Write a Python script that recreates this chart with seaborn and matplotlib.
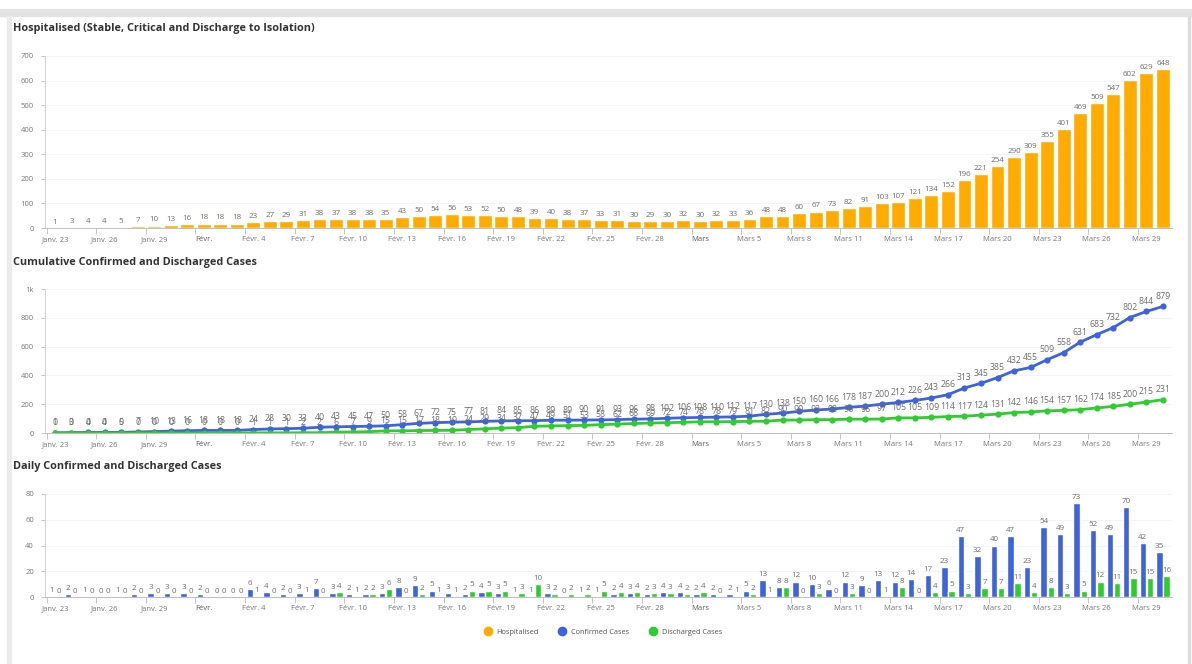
import matplotlib
matplotlib.use('Agg')
import pandas as pd
import matplotlib.pyplot as plt
import seaborn as sns
from matplotlib.lines import Line2D
from matplotlib.patches import Rectangle

# daily dates Jan 23 - Mar 30 2020
days = pd.date_range('2020-01-23', '2020-03-30', freq='D')

hospitalised = [1, 3, 4, 4, 5, 7, 10, 13, 16, 18, 18, 18, 23, 27, 29, 31, 38, 37, 38, 38,
                35, 43, 50, 54, 56, 53, 52, 50, 48, 39, 40, 38, 37, 33, 31, 30, 29, 30, 32, 30,
                32, 33, 36, 48, 48, 60, 67, 73, 82, 91, 103, 107, 121, 134, 152, 196, 221, 254,
                290, 309, 355, 401, 469, 509, 547, 602, 629, 648]

confirmed_cum = [1, 3, 4, 4, 5, 7, 10, 13, 16, 18, 18, 18, 24, 28, 30, 33, 40, 43, 45, 47,
                 50, 58, 67, 72, 75, 77, 81, 84, 85, 86, 89, 89, 90, 91, 93, 96, 98, 102, 106, 108,
                 110, 112, 117, 130, 138, 150, 160, 166, 178, 187, 200, 212, 226, 243, 266, 313,
                 345, 385, 432, 455, 509, 558, 631, 683, 732, 802, 844, 879]

discharged_cum = [0, 0, 0, 0, 0, 0, 0, 0, 0, 0, 0, 0, 1, 1, 1, 2, 2, 6, 7, 9,
                  15, 15, 17, 18, 19, 24, 29, 34, 37, 47, 49, 51, 53, 58, 62, 66, 69, 72, 74, 78,
                  78, 79, 81, 82, 90, 90, 93, 93, 96, 96, 97, 105, 105, 109, 114, 117, 124, 131,
                  142, 146, 154, 157, 162, 174, 185, 200, 215, 231]

confirmed_daily = [1, 2, 1, 0, 1, 2, 3, 3, 3, 2, 0, 0, 6, 4, 2, 3, 7, 3, 2, 2,
                   3, 8, 9, 5, 3, 2, 4, 3, 1, 1, 3, 0, 1, 1, 2, 3, 2, 4, 4, 2,
                   2, 2, 5, 13, 8, 12, 10, 6, 12, 9, 13, 12, 14, 17, 23, 47, 32, 40,
                   47, 23, 54, 49, 73, 52, 49, 70, 42, 35]

discharged_daily = [0, 0, 0, 0, 0, 0, 0, 0, 0, 0, 0, 0, 1, 0, 0, 1, 0, 4, 1, 2,
                    6, 0, 2, 1, 1, 5, 5, 5, 3, 10, 2, 2, 2, 5, 4, 4, 3, 3, 2, 4,
                    0, 1, 2, 1, 8, 0, 3, 0, 3, 0, 1, 8, 0, 4, 5, 3, 7, 7,
                    11, 4, 8, 3, 5, 12, 11, 15, 15, 16]

tick_labels = ['Janv. 23', 'Janv. 26', 'Janv. 29', 'Févr.', 'Févr. 4', 'Févr. 7', 'Févr. 10',
               'Févr. 13', 'Févr. 16', 'Févr. 19', 'Févr. 22', 'Févr. 25', 'Févr. 28', 'Mars',
               'Mars 5', 'Mars 8', 'Mars 11', 'Mars 14', 'Mars 17', 'Mars 20', 'Mars 23',
               'Mars 26', 'Mars 29']
bold_labels = ['Févr.', 'Mars']

ORANGE = '#ffab00'
BLUE = '#3e63dd'
GREEN = '#2ecc2e'
GREY = '#6e6e6e'

sns.set_theme(style='white')
plt.rcParams['font.family'] = ['Open Sans', 'DejaVu Sans']

W, H = 1192, 664
fig = plt.figure(figsize=(W / 100, H / 100), dpi=100)

# frame around the dashboard panel
fig.patches.append(Rectangle((0, 1 - 16 / H), 1, 7 / H, transform=fig.transFigure,
                             color='#e3e3e3', zorder=0))
fig.patches.append(Rectangle((7 / W, 0), 4 / W, 1 - 16 / H, transform=fig.transFigure,
                             color='#ebebeb', zorder=0))
fig.patches.append(Rectangle((1188 / W, 0), 2 / W, 1 - 16 / H, transform=fig.transFigure,
                             color='#dcdcdc', zorder=0))


def px_axes(left, top, right, bottom):
    return fig.add_axes([left / W, 1 - bottom / H, (right - left) / W, (bottom - top) / H])


ax1 = px_axes(45, 56, 1172, 228)
ax2 = px_axes(45, 289, 1172, 433)
ax3 = px_axes(45, 494, 1172, 597)

n = len(days)
idx = list(range(n))

# hospitalised bars
sns.barplot(x=idx, y=hospitalised, color=ORANGE, saturation=1, width=0.84, ax=ax1)
ax1.bar_label(ax1.containers[0], padding=1.5, fontsize=5.8, color=GREY)
ax1.set_ylim(0, 700)
ax1.set_yticks(range(0, 701, 100))

# cumulative lines
sns.lineplot(x=idx, y=confirmed_cum, color=BLUE, marker='o', markersize=4.5,
             markeredgewidth=0, linewidth=2, ax=ax2)
sns.lineplot(x=idx, y=discharged_cum, color=GREEN, marker='o', markersize=4.5,
             markeredgewidth=0, linewidth=2, ax=ax2)
for i in idx:
    ax2.annotate(str(confirmed_cum[i]), (i, confirmed_cum[i]), xytext=(0, 4),
                 textcoords='offset points', ha='center', va='bottom', fontsize=6.3, color=GREY)
    ax2.annotate(str(discharged_cum[i]), (i, discharged_cum[i]), xytext=(0, 4),
                 textcoords='offset points', ha='center', va='bottom', fontsize=6.3, color=GREY)
ax2.set_ylim(0, 1000)
ax2.set_yticks(range(0, 1001, 200))
ax2.set_yticklabels(['0', '200', '400', '600', '800', '1k'])

# daily grouped bars
daily = pd.DataFrame({
    'day': idx * 2,
    'cases': confirmed_daily + discharged_daily,
    'series': ['Confirmed Cases'] * n + ['Discharged Cases'] * n,
})
sns.barplot(data=daily, x='day', y='cases', hue='series', palette=[BLUE, GREEN],
            saturation=1, width=0.86, gap=0.1, legend=False, ax=ax3)
for c in ax3.containers:
    ax3.bar_label(c, padding=1.5, fontsize=5.8, color=GREY)
ax3.set_ylim(0, 80)
ax3.set_yticks(range(0, 81, 20))

tick_pos = list(range(0, n, 3))
for ax in (ax1, ax2, ax3):
    ax.set_xlim(-0.6, n - 0.45)
    ax.set_xlabel('')
    ax.set_ylabel('')
    ax.set_xticks(tick_pos)
    ax.set_xticklabels([])
    # date labels drawn on a shared baseline so bold and regular line up
    for p, t in zip(tick_pos, tick_labels):
        if t in bold_labels:
            ax.annotate(t, xy=(p, 0), xycoords=('data', 'axes fraction'), xytext=(0, -9.5),
                        textcoords='offset points', ha='center', va='baseline', fontsize=5.5,
                        fontweight='bold', family=['Noto Sans', 'DejaVu Sans'], color='#666666')
        else:
            ax.annotate(t, xy=(p, 0), xycoords=('data', 'axes fraction'), xytext=(0, -9.5),
                        textcoords='offset points', ha='center', va='baseline', fontsize=5.5,
                        color='#777777')
    ax.set_xticks([p - 0.5 for p in tick_pos], minor=True)
    ax.tick_params(axis='x', which='major', length=0)
    ax.tick_params(axis='x', which='minor', length=4, width=0.6, color='#bbbbbb', bottom=True)
    ax.tick_params(axis='y', length=3, width=0.6, color='#bbbbbb', labelsize=5.5,
                   labelcolor='#777777', left=True, pad=5)
    ax.yaxis.grid(True, color='#f3f3f3', linewidth=0.6)
    ax.set_axisbelow(True)
    for s in ('top', 'right'):
        ax.spines[s].set_visible(False)
    ax.spines['left'].set_color('#d4d4d4')
    ax.spines['left'].set_linewidth(0.7)
    ax.spines['bottom'].set_color('#bfbfbf')
    ax.spines['bottom'].set_linewidth(0.7)
    ax.set_facecolor('none')

titles = [('Hospitalised (Stable, Critical and Discharge to Isolation)', 29),
          ('Cumulative Confirmed and Discharged Cases', 262),
          ('Daily Confirmed and Discharged Cases', 467)]
for txt, y in titles:
    fig.text(13 / W, 1 - y / H, txt, fontsize=7.8, fontweight='bold', color='#333333',
             va='center', ha='left')

handles = [Line2D([], [], marker='o', linestyle='', color=c, markersize=6)
           for c in (ORANGE, BLUE, GREEN)]
fig.legend(handles, ['Hospitalised', 'Confirmed Cases', 'Discharged Cases'],
           loc='center', bbox_to_anchor=(601 / W, 1 - 632 / H), ncol=3, frameon=False,
           fontsize=5.3, handletextpad=0.2, columnspacing=2.2, labelcolor='#555555')

fig.savefig('out.png', dpi=100)
